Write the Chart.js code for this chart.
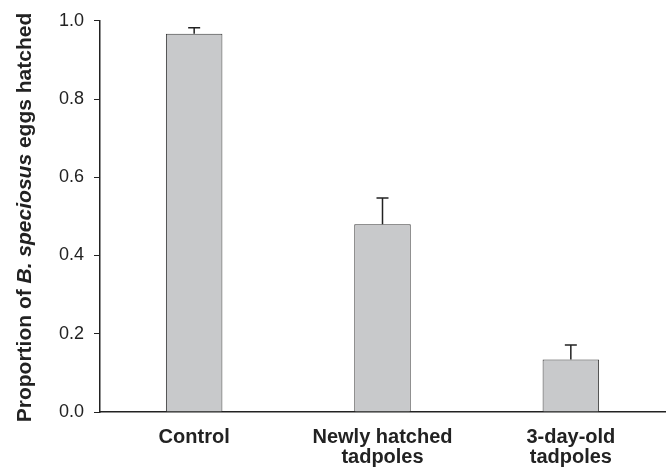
<!DOCTYPE html>
<html>
<head>
<meta charset="utf-8">
<script src="https://cdn.jsdelivr.net/npm/chart.js@4/dist/chart.umd.min.js"></script>
<style>
  html, body { margin: 0; padding: 0; background: #fff; }
  #wrap { width: 666px; height: 468px; }
</style>
</head>
<body>
<div id="wrap"><canvas id="eggChart" width="666" height="468"></canvas></div>
<script>
// data
const groups = [['Control'], ['Newly hatched', 'tadpoles'], ['3-day-old', 'tadpoles']];
const hatched = [0.967, 0.48, 0.134];
const hatchedSE = [0.015, 0.067, 0.037];
const yTicks = [0, 0.2, 0.4, 0.6, 0.8, 1.0];

const FONT = '"Liberation Sans", Arial, Helvetica, sans-serif';
const INK = '#222';

// upper error bars only, like the original
const errorBars = {
  id: 'errorBars',
  afterDatasetsDraw(chart) {
    const ctx = chart.ctx;
    const y = chart.scales.y;
    const meta = chart.getDatasetMeta(0);
    ctx.save();
    ctx.strokeStyle = INK;
    ctx.lineWidth = 1.5;
    meta.data.forEach((bar, i) => {
      const top = y.getPixelForValue(hatched[i] + hatchedSE[i]);
      ctx.beginPath();
      ctx.moveTo(bar.x, bar.y);
      ctx.lineTo(bar.x, top);
      ctx.moveTo(bar.x - 6, top);
      ctx.lineTo(bar.x + 6, top);
      ctx.stroke();
    });
    ctx.restore();
  }
};

// y title with the species name in italics
const yTitle = {
  id: 'yTitle',
  afterDraw(chart) {
    const ctx = chart.ctx;
    const parts = [
      ['Proportion of ', 'bold 21px ' + FONT],
      ['B. speciosus', 'italic bold 21px ' + FONT],
      [' eggs hatched', 'bold 21px ' + FONT]
    ];
    ctx.save();
    let total = 0;
    parts.forEach(p => { ctx.font = p[1]; total += ctx.measureText(p[0]).width; });
    ctx.translate(31, 217.5);
    ctx.rotate(-Math.PI / 2);
    ctx.fillStyle = INK;
    ctx.textBaseline = 'alphabetic';
    let x = -total / 2;
    parts.forEach(p => {
      ctx.font = p[1];
      ctx.fillText(p[0], x, 0);
      x += ctx.measureText(p[0]).width;
    });
    ctx.restore();
  }
};

new Chart(document.getElementById('eggChart').getContext('2d'), {
  type: 'bar',
  data: {
    labels: groups,
    datasets: [{
      data: hatched,
      backgroundColor: '#c8c9cb',
      borderColor: '#3a3a3a',
      borderWidth: 1,
      categoryPercentage: 1,
      barPercentage: 0.3
    }]
  },
  options: {
    responsive: false,
    animation: false,
    layout: { padding: { top: 17, right: 1, left: 0, bottom: 0 } },
    plugins: { legend: { display: false }, tooltip: { enabled: false } },
    scales: {
      x: {
        grid: { display: false, drawTicks: false },
        border: { display: true, color: INK, width: 1.5 },
        ticks: {
          color: INK,
          padding: 15,
          font: { family: FONT, size: 20, weight: 'bold', lineHeight: 1.0 }
        },
        afterFit(s) { s.height = 56; }
      },
      y: {
        min: 0,
        max: 1,
        afterBuildTicks(s) { s.ticks = yTicks.map(v => ({ value: v })); },
        grid: { drawOnChartArea: false, drawTicks: true, tickLength: 6, color: INK },
        border: { display: true, color: INK, width: 1.5 },
        ticks: {
          color: INK,
          padding: 10,
          font: { family: FONT, size: 18 },
          callback: v => v.toFixed(1)
        },
        afterFit(s) { s.width = 100; }
      }
    }
  },
  plugins: [errorBars, yTitle]
});
</script>
</body>
</html>
